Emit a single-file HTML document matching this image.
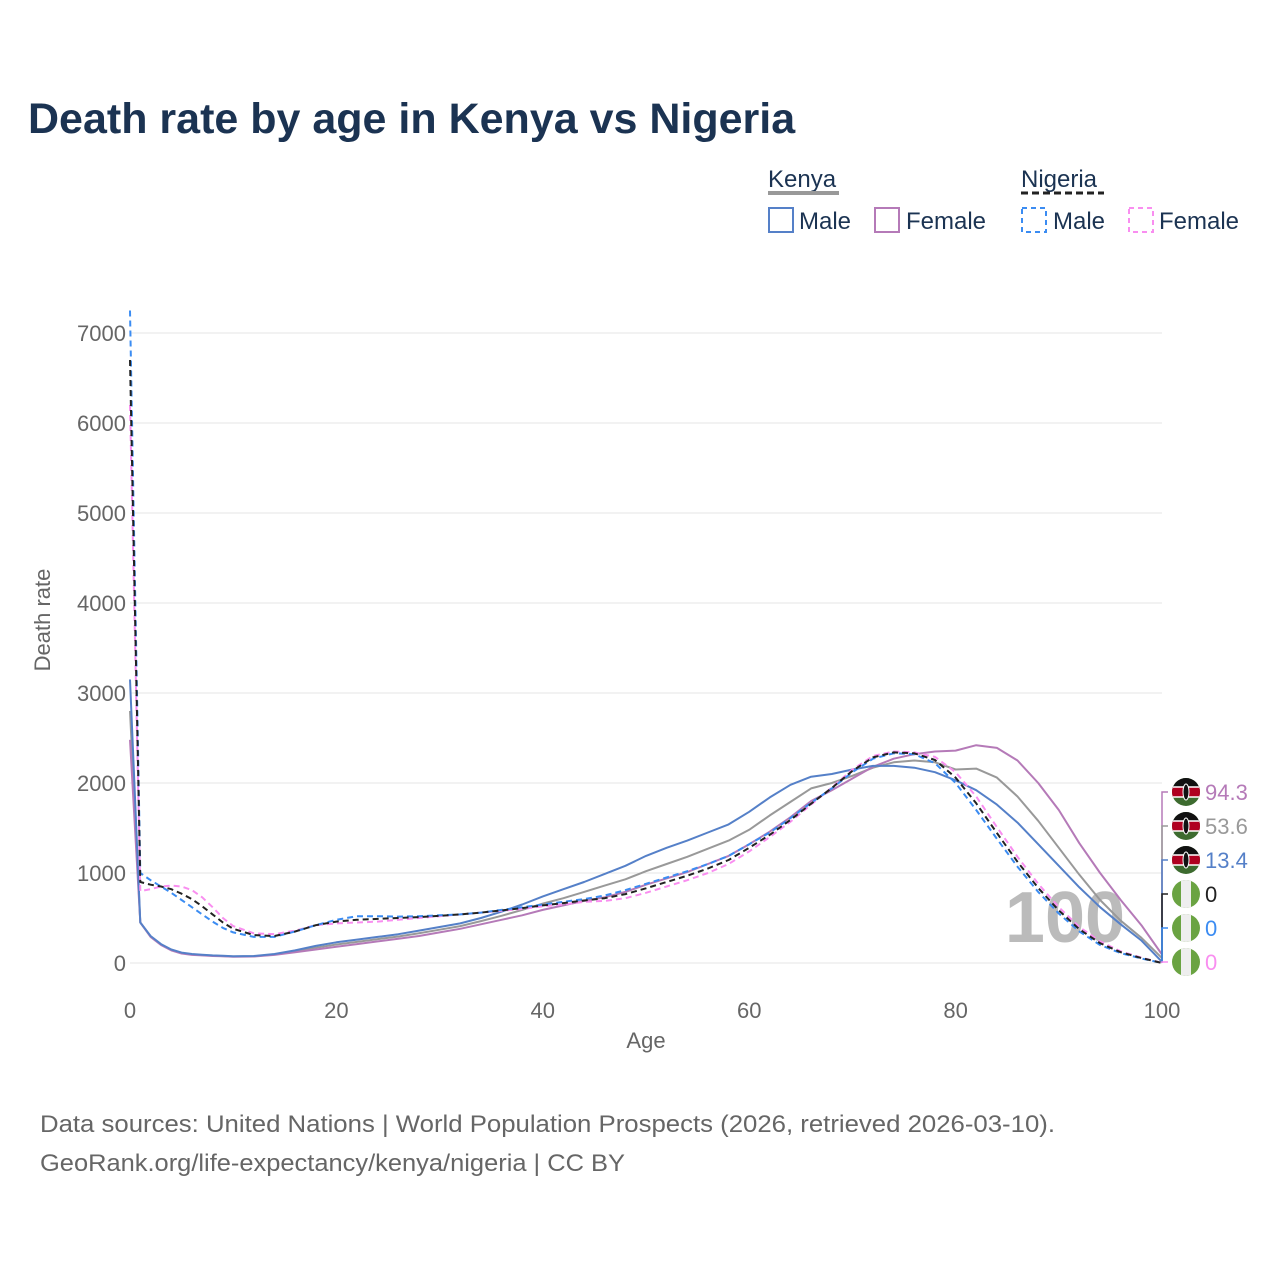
<!DOCTYPE html>
<html><head><meta charset="utf-8"><style>
body{margin:0;background:#fff;font-family:"Liberation Sans",sans-serif}
svg text{font-family:"Liberation Sans",sans-serif}
</style></head><body>
<svg id="c" width="1280" height="1280" viewBox="0 0 1280 1280">
<defs><clipPath id="fc"><circle cx="0" cy="0" r="14"/></clipPath></defs>
<text x="28" y="133" font-size="43" font-weight="bold" fill="#1b3352">Death rate by age in Kenya vs Nigeria</text>
<g>
<text x="768" y="187" font-size="24" fill="#1b3352">Kenya</text>
<line x1="768" y1="193" x2="839" y2="193" stroke="#999" stroke-width="4"/>
<text x="1021" y="187" font-size="24" fill="#1b3352">Nigeria</text>
<line x1="1021" y1="193" x2="1104" y2="193" stroke="#222" stroke-width="3" stroke-dasharray="7,4"/>
<g><rect x="769" y="208" width="24" height="24" fill="none" stroke="#5580c8" stroke-width="2"/><text x="799" y="229" font-size="24" fill="#1b3352">Male</text></g>
<g><rect x="875" y="208" width="24" height="24" fill="none" stroke="#b57ab8" stroke-width="2"/><text x="906" y="229" font-size="24" fill="#1b3352">Female</text></g>
<g><rect x="1022" y="208" width="24" height="24" fill="none" stroke="#3b8cf2" stroke-width="2" stroke-dasharray="5,4"/><text x="1053" y="229" font-size="24" fill="#1b3352">Male</text></g>
<g><rect x="1129" y="208" width="24" height="24" fill="none" stroke="#f98ef0" stroke-width="2" stroke-dasharray="5,4"/><text x="1159" y="229" font-size="24" fill="#1b3352">Female</text></g>
</g>
<g id="grid"></g>
<text x="1065" y="942" font-size="72" font-weight="bold" fill="#bbb" text-anchor="middle">100</text>
<g id="lines"></g>
<g id="labels"></g>
<text x="646" y="1048" font-size="22" fill="#666" text-anchor="middle">Age</text>
<text transform="translate(50,620) rotate(-90)" font-size="22" fill="#666" text-anchor="middle">Death rate</text>
<text x="40" y="1132" font-size="24" fill="#666" textLength="1015" lengthAdjust="spacingAndGlyphs">Data sources: United Nations | World Population Prospects (2026, retrieved 2026-03-10).</text>
<text x="40" y="1171" font-size="24" fill="#666" textLength="585" lengthAdjust="spacingAndGlyphs">GeoRank.org/life-expectancy/kenya/nigeria | CC BY</text>
</svg>
<script>
const ages=[0,1,2,3,4,5,6,7,8,9,10,12,14,16,18,20,22,24,26,28,30,32,34,36,38,40,42,44,46,48,50,52,54,56,58,60,62,64,66,68,70,72,74,76,78,80,82,84,86,88,90,92,94,96,98,100];
const kenyaMale=[3150,450,300,210,150,115,100,92,85,80,75,78,100,140,190,230,260,290,320,360,400,440,500,570,650,740,820,900,990,1080,1190,1280,1360,1450,1540,1680,1840,1980,2070,2100,2150,2190,2190,2170,2120,2030,1920,1760,1560,1320,1080,840,620,430,250,13];
const kenyaFemale=[2480,450,290,200,140,105,90,84,78,74,70,72,90,120,150,180,210,240,270,300,340,380,430,480,530,590,640,690,730,790,870,940,1010,1100,1190,1320,1460,1620,1800,1920,2050,2180,2270,2320,2350,2360,2420,2390,2250,2000,1700,1330,1000,700,420,94];
const kenyaBoth=[2800,450,295,205,145,110,95,88,82,77,72,75,95,130,170,205,235,265,295,330,370,410,465,525,590,660,720,790,860,930,1020,1100,1180,1270,1360,1480,1640,1790,1940,2000,2080,2170,2230,2250,2230,2150,2160,2060,1850,1580,1280,980,700,470,280,54];
const nigeriaMale=[7250,1000,920,850,780,700,620,540,460,390,340,290,290,350,420,480,520,520,515,520,530,540,560,590,620,650,680,710,750,810,880,950,1020,1100,1190,1320,1450,1610,1780,1940,2120,2270,2330,2320,2220,2000,1700,1380,1070,790,550,350,200,110,50,0];
const nigeriaFemale=[6200,800,820,850,860,850,810,730,620,500,410,330,320,360,420,440,450,460,480,500,520,540,560,580,600,630,650,680,690,720,780,850,920,1000,1100,1240,1400,1570,1760,1950,2150,2300,2350,2340,2290,2120,1850,1510,1180,880,620,400,240,130,60,0];
const nigeriaBoth=[6700,900,870,850,820,770,710,630,540,450,380,310,300,350,420,460,480,490,500,510,525,540,560,585,610,640,665,695,720,765,830,900,970,1050,1145,1280,1425,1590,1770,1945,2135,2285,2340,2330,2255,2060,1775,1445,1125,835,585,375,220,120,55,0];
const yTicks=[0,1000,2000,3000,4000,5000,6000,7000];
const xTicks=[0,20,40,60,80,100];
const endLabels=["94.3","53.6","13.4","0","0","0"];
const NS="http://www.w3.org/2000/svg";
const X=a=>130+a*10.32, Y=v=>963-v*0.09;
function mk(t,at,p){const e=document.createElementNS(NS,t);for(const k in at)e.setAttribute(k,at[k]);p.appendChild(e);return e;}
const g=document.getElementById('grid');
yTicks.forEach(v=>{const l=mk('line',{x1:130,x2:1162,y1:Y(v),y2:Y(v),stroke:'#e6e6e6','stroke-width':1},g);


const t=mk('text',{x:126,y:Y(v)+8,'font-size':22,fill:'#666','text-anchor':'end'},g);t.textContent=v;

});
xTicks.forEach(a=>{const t=mk('text',{x:X(a),y:1018,'font-size':22,fill:'#666','text-anchor':'middle'},g);t.textContent=a;

});
const L=document.getElementById('lines');
const series=[[kenyaBoth,'#999','',2,'kenya-both-line'],[kenyaFemale,'#b57ab8','',2,'kenya-female-line'],[kenyaMale,'#5580c8','',2,'kenya-male-line'],[nigeriaFemale,'#f98ef0','6,4',2,'nigeria-female-line'],[nigeriaMale,'#3b8cf2','6,4',2,'nigeria-male-line'],[nigeriaBoth,'#222','6,4',2,'nigeria-both-line']];
series.forEach(s=>{const d=s[0].map((v,i)=>(i?'L':'M')+X(ages[i]).toFixed(1)+','+Y(v).toFixed(1)).join('');
const p=mk('path',{d:d,fill:'none',stroke:s[1],'stroke-width':s[3],'stroke-dasharray':s[2]||'none','stroke-linejoin':'round'},L);

});
const lab=document.getElementById('labels');
const lc=['#b57ab8','#999','#5580c8','#222','#3b8cf2','#f98ef0'];
const lastVals=[kenyaFemale,kenyaBoth,kenyaMale,nigeriaBoth,nigeriaMale,nigeriaFemale].map(a=>a[a.length-1]);
endLabels.forEach((t,i)=>{const y=792+i*34;
mk('path',{d:`M1162,${Y(lastVals[i])}L1162,${y}L1168,${y}`,stroke:lc[i],fill:'none','stroke-width':1.5},lab);
const fg=mk('g',{transform:`translate(1186,${y})`,'clip-path':'url(#fc)'},lab);


if(i<3){mk('rect',{x:-14,y:-14,width:28,height:28,fill:'#3d6b2f'},fg);mk('rect',{x:-14,y:-14,width:28,height:10,fill:'#111'},fg);mk('rect',{x:-15,y:-5,width:30,height:10,fill:'#b00020',stroke:'#fff','stroke-width':1.5},fg);mk('ellipse',{cx:0,cy:0,rx:3,ry:8,fill:'#111',stroke:'#fff','stroke-width':1},fg);}
else{mk('rect',{x:-14,y:-14,width:28,height:28,fill:'#6aa342'},fg);mk('rect',{x:-5,y:-14,width:10,height:28,fill:'#eee'},fg);}
const tx=mk('text',{x:1205,y:y+8,'font-size':22,fill:lc[i]},lab);tx.textContent=t;

});
</script>
</body></html>
